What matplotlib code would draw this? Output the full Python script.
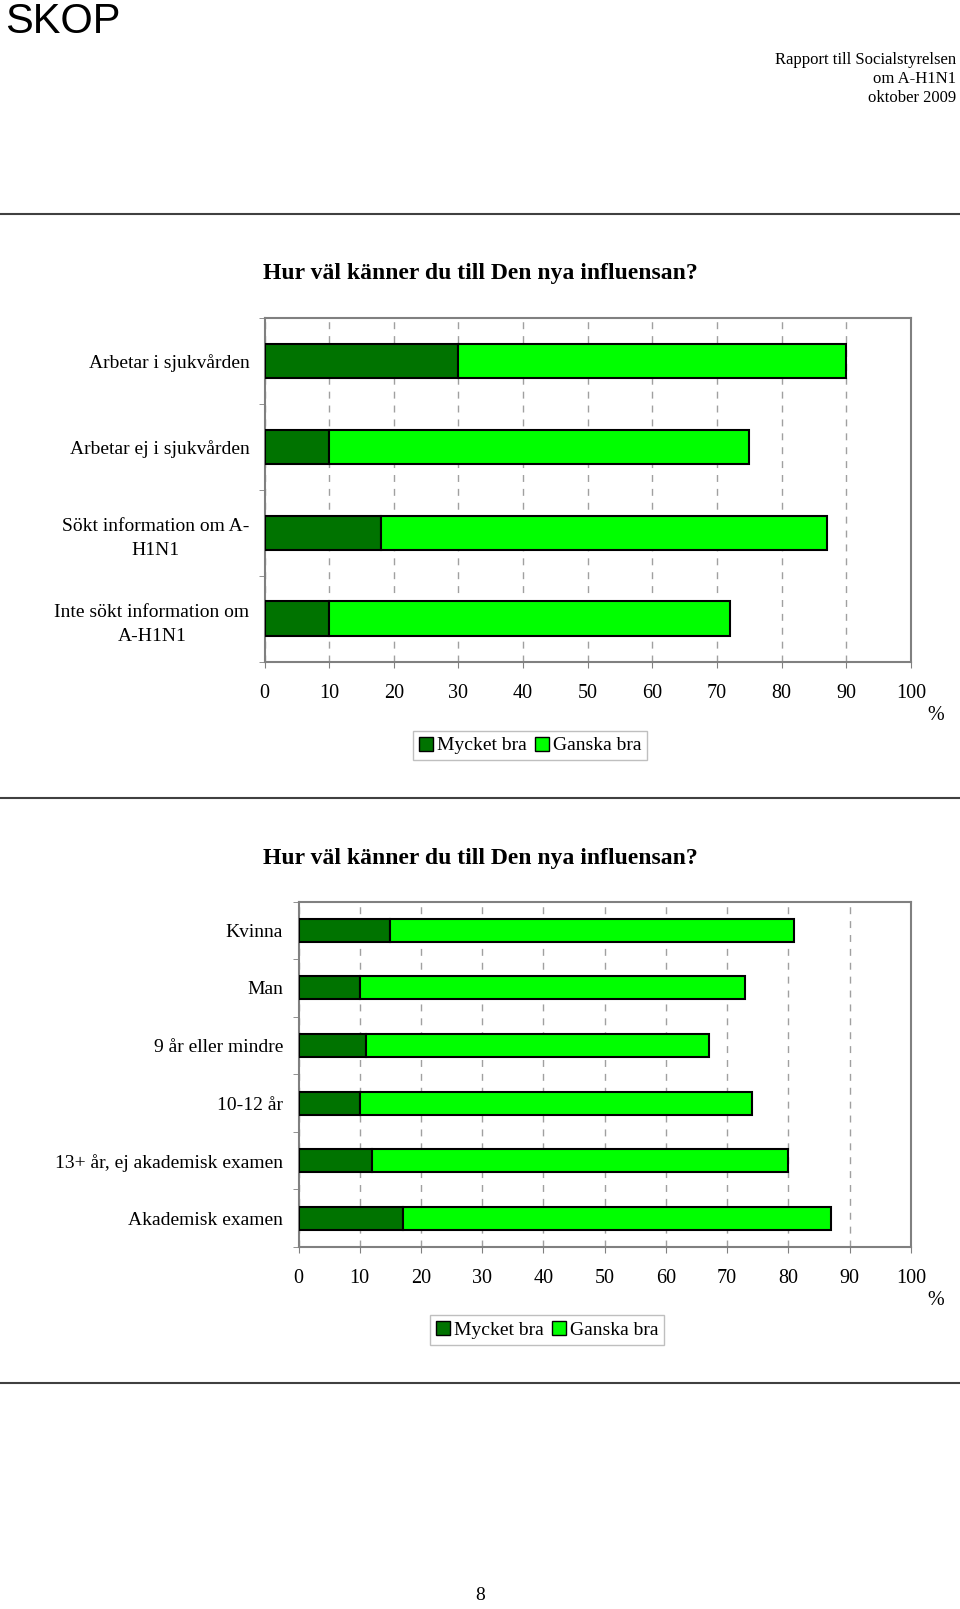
import matplotlib
matplotlib.use('Agg')
import matplotlib.pyplot as plt
from matplotlib.lines import Line2D
from matplotlib.patches import Patch

# data
title = "Hur väl känner du till Den nya influensan?"
series_names = ["Mycket bra", "Ganska bra"]

cats_1 = ["Arbetar i sjukvården", "Arbetar ej i sjukvården",
          "Sökt information om A-\nH1N1", "Inte sökt information om\nA-H1N1"]
mycket_1 = [30, 10, 18, 10]
ganska_1 = [60, 65, 69, 62]

cats_2 = ["Kvinna", "Man", "9 år eller mindre", "10-12 år",
          "13+ år, ej akademisk examen", "Akademisk examen"]
mycket_2 = [15, 10, 11, 10, 12, 17]
ganska_2 = [66, 63, 56, 64, 68, 70]

x_ticks = list(range(0, 101, 10))

header_lines = ["Rapport till Socialstyrelsen", "om A-H1N1", "oktober 2009"]
page_no = "8"

DARK = '#007300'
LIGHT = '#00ff00'
SERIF = 'Liberation Serif'
W, H = 960, 1609

fig = plt.figure(figsize=(W / 100, H / 100), dpi=100)
fig.patch.set_facecolor('white')


def fy(px):
    return 1 - px / H


def draw_chart(rect, cats, dark, light, title_y, pct_y, leg_x, leg_y):
    ax = fig.add_axes(rect)
    ys = list(range(len(cats)))
    ax.barh(ys, dark, height=0.4, color=DARK, edgecolor='black', linewidth=1.5, zorder=3)
    ax.barh(ys, light, left=dark, height=0.4, color=LIGHT, edgecolor='black', linewidth=1.5, zorder=3)
    ax.set_xlim(0, 100)
    ax.set_ylim(len(cats) - 0.5, -0.5)
    ax.set_xticks(x_ticks)
    ax.set_xticklabels([str(t) for t in x_ticks], family=SERIF, fontsize=14.5)
    ax.tick_params(axis='x', length=4, color='#808080', pad=12)
    ax.set_yticks(ys)
    ax.set_yticklabels(cats, family=SERIF, fontsize=14, multialignment='center', linespacing=1.6)
    ax.tick_params(axis='y', length=0, pad=11)
    ax.set_yticks([i - 0.5 for i in range(len(cats) + 1)], minor=True)
    ax.tick_params(axis='y', which='minor', length=4, color='#808080')
    ax.grid(axis='x', color='#a0a0a0', linestyle=(0, (5, 5)), linewidth=1)
    ax.set_axisbelow(True)
    for s in ax.spines.values():
        s.set_color('#808080')
        s.set_linewidth(1.5)
    fig.text(0.5, fy(title_y), title, ha='center', va='center',
             family=SERIF, fontsize=17, fontweight='bold')
    fig.text(936 / W, fy(pct_y), '%', ha='center', va='center', family=SERIF, fontsize=14.5)
    handles = [Patch(facecolor=DARK, edgecolor='black'), Patch(facecolor=LIGHT, edgecolor='black')]
    fig.legend(handles, series_names, loc='center', bbox_to_anchor=(leg_x / W, fy(leg_y)),
               ncol=2, prop={'family': SERIF, 'size': 14}, frameon=True, fancybox=False,
               edgecolor='#b0b0b0', handlelength=0.75, handleheight=0.75, handletextpad=0.2,
               columnspacing=0.4, borderpad=0.3, borderaxespad=0)
    return ax


draw_chart([264.6 / W, fy(661.5), (910.8 - 264.6) / W, (661.5 - 318) / H],
           cats_1, mycket_1, ganska_1, 274, 716, 530, 745.5)
draw_chart([298.5 / W, fy(1247), (910.8 - 298.5) / W, (1247 - 901.5) / H],
           cats_2, mycket_2, ganska_2, 858.5, 1300.5, 547, 1330)

# page furniture
fig.text(5 / W, fy(22), "SKOP", ha='left', va='center', family='Liberation Sans', fontsize=30)
for i, line in enumerate(header_lines):
    fig.text(956 / W, fy(59.5 + i * 19.5), line, ha='right', va='center', family=SERIF, fontsize=12)
for yl in [214, 798, 1382.5]:
    fig.add_artist(Line2D([0, 1], [fy(yl), fy(yl)], transform=fig.transFigure,
                          color='#404040', linewidth=1.5))
fig.text(480 / W, fy(1596), page_no, ha='center', va='center', family=SERIF, fontsize=14)

fig.savefig('out.png', dpi=100)
